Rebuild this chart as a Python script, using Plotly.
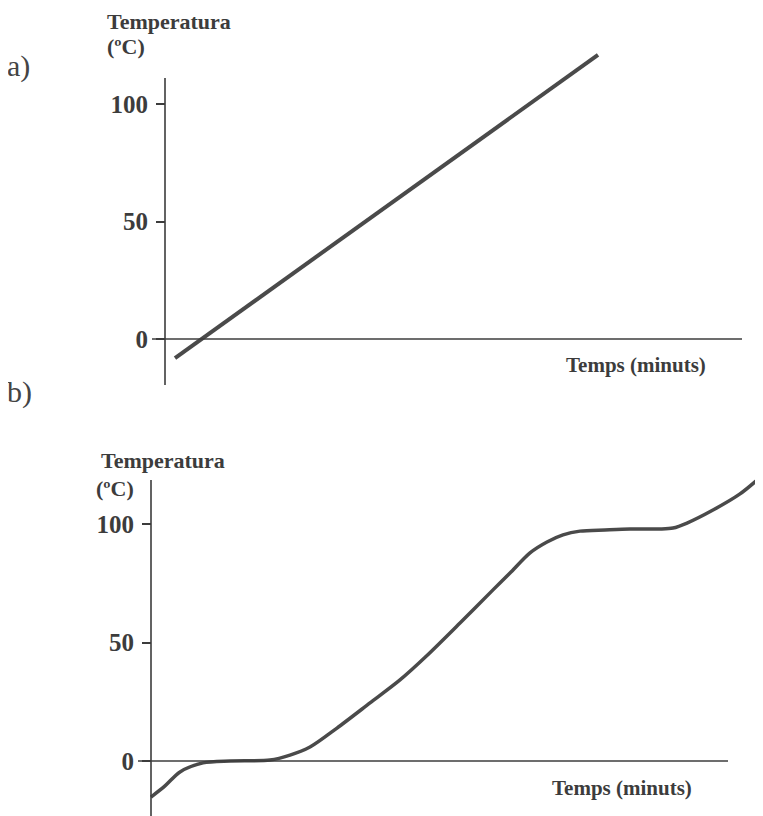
import plotly.graph_objects as go

# ---- data ----
# chart a) straight heating line
time_a = [0.5, 21.65]
temp_a = [-8.1, 120.9]

# chart b) heating curve with plateau near 100 ºC
time_b = [0, 0.7, 1.45, 2.6, 3.95, 5.95, 6.95, 7.95, 9.3, 10.95, 12.45, 13.8,
          15.45, 17.1, 17.95, 18.95, 19.8, 20.6, 21.45, 22.7, 23.95, 25.45,
          26.1, 26.8, 28.1, 29.45, 30.6]
temp_b = [-15.2, -10.5, -4.6, -0.8, 0, 0.4, 2.5, 5.9, 13.9, 24.5, 34.2, 44.5,
          58.2, 72.2, 79.3, 87.8, 92.4, 95.4, 97.0, 97.5, 97.9, 97.9,
          98.3, 100.4, 105.9, 112.7, 120.7]

tick_vals = [0, 50, 100]
tick_text = ["0", "50", "100"]
y_title_1 = "Temperatura"
y_title_2 = "(ºC)"
x_title = "Temps (minuts)"

W, H = 763, 816
OFF = 8  # page body margin in the browser
FW, FH = W - OFF, H - OFF
INK = "#3c3c3c"
LINE = "#4a4a4a"
SERIF = "Liberation Serif"

def px_x(p):
    return (p - OFF) / FW

def px_y(p):
    return 1 - (p - OFF) / FH

fig = go.Figure()
fig.add_trace(go.Scatter(x=time_a, y=temp_a, mode="lines", xaxis="x", yaxis="y",
                         line=dict(color=LINE, width=4), showlegend=False,
                         hoverinfo="skip"))
fig.add_trace(go.Scatter(x=time_b, y=temp_b, mode="lines", xaxis="x2", yaxis="y2",
                         line=dict(color=LINE, width=3.5, shape="spline", smoothing=0.8),
                         showlegend=False, hoverinfo="skip"))

yax_common = dict(showgrid=False, zeroline=False, showline=False, ticks="outside",
                  ticklen=9, tickwidth=1.5, tickcolor=INK, ticklabelstandoff=3,
                  tickvals=tick_vals, ticktext=tick_text, anchor="free",
                  tickfont=dict(family=SERIF, size=25, color=INK, weight="bold"),
                  fixedrange=True)
xax_common = dict(visible=False, fixedrange=True)

fig.update_layout(
    width=FW, height=FH, margin=dict(l=0, r=0, t=0, b=0),
    paper_bgcolor="white", plot_bgcolor="white",
    xaxis=dict(domain=[px_x(140), 1], range=[(140 - 165) / 20, (763 - 165) / 20],
               anchor="y", **xax_common),
    yaxis=dict(domain=[px_y(400), px_y(40)], range=[(339 - 400) / 2.35, (339 - 40) / 2.35],
               position=px_x(165), **yax_common),
    xaxis2=dict(domain=[px_x(130), 1], range=[(130 - 151) / 20, (763 - 151) / 20],
                anchor="y2", **xax_common),
    yaxis2=dict(domain=[0, px_y(470)], range=[(761 - 816) / 2.37, (761 - 470) / 2.37],
                position=px_x(151), **yax_common),
)

# axis lines (decoration)
axis_line = dict(color=INK, width=1.6)
fig.add_shape(type="line", xref="x", yref="y", x0=0, x1=0, y0=-19.6, y1=111.1, line=axis_line)
fig.add_shape(type="line", xref="x", yref="y", x0=-0.65, x1=28.85, y0=0, y1=0, line=axis_line)
fig.add_shape(type="line", xref="x2", yref="y2", x0=0, x1=0, y0=-23.2, y1=118.6, line=axis_line)
fig.add_shape(type="line", xref="x2", yref="y2", x0=-0.65, x1=28.85, y0=0, y1=0, line=axis_line)

title_font = dict(family=SERIF, size=22, color=INK, weight="bold")
xlab_font = dict(family=SERIF, size=21, color=INK, weight="bold")
label_font = dict(family=SERIF, size=30, color="#444444")

def ann(text, x, y, font, xanchor="left"):
    fig.add_annotation(text=text, x=px_x(x), y=px_y(y), xref="paper", yref="paper",
                       xanchor=xanchor, yanchor="middle", showarrow=False,
                       font=font, align="left", borderpad=0)

ann(y_title_1, 106, 21, title_font)
ann(y_title_2, 106, 46, title_font)
ann(y_title_1, 100, 460, title_font)
ann(y_title_2, 95, 488, title_font)
ann(x_title, 636, 365, xlab_font, xanchor="center")
ann(x_title, 622, 788, xlab_font, xanchor="center")
ann("a)", 6, 66, label_font)
ann("b)", 6, 392, label_font)

fig.write_html("out.html")
